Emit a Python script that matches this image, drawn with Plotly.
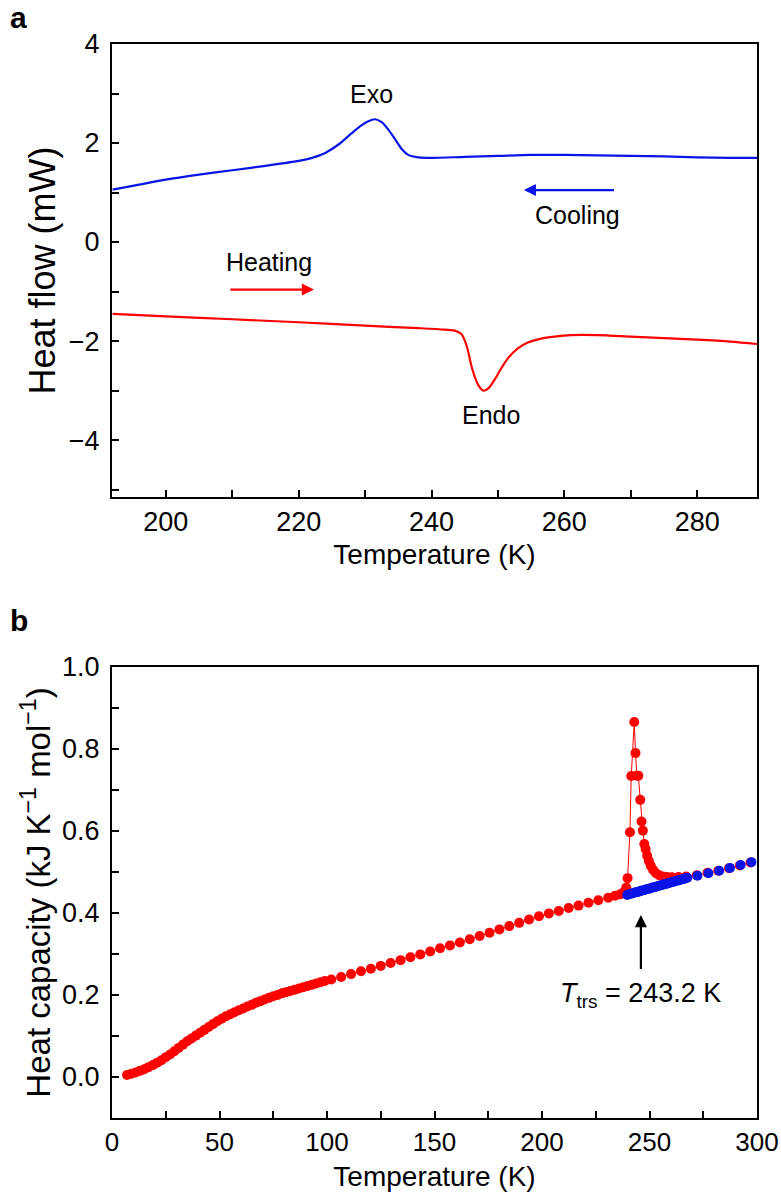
import plotly.graph_objects as go

# ---------------- Panel a: DSC heat flow ----------------
dsc_T_cool = [192, 196, 200, 205, 210, 215, 220, 222, 224, 226, 228, 229.5, 230.5, 231.5,
              232.5, 233.5, 234.5, 235.5, 236.5, 238, 240, 245, 250, 255, 260, 265, 270,
              275, 280, 285, 289]
dsc_cool = [1.06, 1.16, 1.26, 1.36, 1.45, 1.54, 1.64, 1.70, 1.80, 1.97, 2.20, 2.36, 2.44, 2.48,
            2.42, 2.27, 2.08, 1.88, 1.76, 1.71, 1.70, 1.72, 1.74, 1.76, 1.76, 1.75, 1.74,
            1.73, 1.71, 1.70, 1.70]

dsc_T_heat = [192, 200, 210, 220, 230, 238, 242, 243.5, 244.5, 245.3, 246.1, 247, 247.8, 248.6,
              249.5, 250.5, 251.5, 253, 254.5, 256.5, 258.5, 261, 265, 270, 275, 280, 285, 289]
dsc_heat = [-1.45, -1.50, -1.56, -1.62, -1.69, -1.74, -1.77, -1.79, -1.86, -2.10, -2.55, -2.88,
            -3.00, -2.95, -2.78, -2.55, -2.35, -2.15, -2.03, -1.95, -1.91, -1.88, -1.88, -1.91,
            -1.94, -1.97, -2.01, -2.06]

# ---------------- Panel b: heat capacity ----------------
cp_T_heat = [7, 9, 11, 13, 15, 17, 19, 21, 23, 25, 27, 29, 31, 33, 35, 37, 39, 41, 43, 45, 47, 49,
             51, 53, 55, 57, 59, 61, 63, 65, 67, 69, 71, 73, 75, 77, 79, 81, 83, 85, 87, 89, 91,
             93, 95, 97, 99,
             102, 106.6, 111.2, 115.8, 120.4, 125, 129.6, 134.2, 138.8, 143.4, 148, 152.6, 157.2,
             161.8, 166.4, 171, 175.6, 180.2, 184.8, 189.4, 194, 198.6, 203.2, 207.8, 212.4, 217,
             221.6, 226.2, 230.8, 234, 236.5, 238.2,
             239.2, 239.8, 240.9, 241.5, 242.9, 243.5, 244.1, 244.8, 245.7, 246.3, 246.9, 247.6,
             248.2, 248.9, 249.7, 250.6, 251.7, 253.0, 254.5, 256.2, 258.2, 260.5, 263.5, 267,
             272, 277, 282, 287, 292, 297]
cp_heat = [0.005, 0.008, 0.011, 0.015, 0.019, 0.024, 0.029, 0.035, 0.041, 0.048, 0.055, 0.063,
           0.071, 0.079, 0.087, 0.094, 0.101, 0.108, 0.115, 0.122, 0.129, 0.136, 0.142, 0.148,
           0.153, 0.158, 0.163, 0.167, 0.172, 0.176, 0.181, 0.185, 0.189, 0.193, 0.197, 0.200,
           0.204, 0.207, 0.210, 0.213, 0.216, 0.219, 0.222, 0.225, 0.228, 0.231, 0.234,
           0.238, 0.244, 0.251, 0.258, 0.264, 0.271, 0.278, 0.285, 0.292, 0.299, 0.306, 0.314,
           0.321, 0.328, 0.336, 0.344, 0.352, 0.360, 0.368, 0.376, 0.384, 0.392, 0.399, 0.405,
           0.412, 0.418, 0.425, 0.431, 0.437, 0.442, 0.446, 0.452,
           0.462, 0.485, 0.597, 0.734, 0.866, 0.790, 0.735, 0.735, 0.676, 0.623, 0.601, 0.568,
           0.556, 0.540, 0.527, 0.515, 0.505, 0.497, 0.492, 0.489, 0.488, 0.487, 0.488, 0.489,
           0.492, 0.498, 0.503, 0.509, 0.516, 0.523]

cp_T_cool = [239.6, 240.5, 241.4, 242.3, 243.2, 244.1, 245, 245.9, 246.8, 247.7, 248.6, 249.5,
             250.4, 251.3, 252.2, 253.1, 254, 254.9, 255.8, 256.7, 257.6, 258.5, 259.4, 260.3,
             261.2, 262.1, 263, 263.9, 264.8, 265.7, 266.6, 267.6, 272.3, 277.4, 282.4, 287.4,
             292.4, 297.4]
cp_cool = [0.444, 0.446, 0.447, 0.448, 0.450, 0.451, 0.452, 0.454, 0.455, 0.456, 0.458, 0.459,
           0.460, 0.462, 0.463, 0.464, 0.466, 0.467, 0.468, 0.470, 0.471, 0.472, 0.474, 0.475,
           0.476, 0.478, 0.479, 0.480, 0.482, 0.483, 0.484, 0.486, 0.491, 0.497, 0.503, 0.510,
           0.517, 0.524]

# tick definitions
a_xticks = [200, 210, 220, 230, 240, 250, 260, 270, 280]
a_xlabels = ["200", "", "220", "", "240", "", "260", "", "280"]
a_yticks = [-5, -4, -3, -2, -1, 0, 1, 2, 3, 4]
a_ylabels = ["", "\u22124", "", "\u22122", "", "0", "", "2", "", "4"]
b_xticks = [0, 25, 50, 75, 100, 125, 150, 175, 200, 225, 250, 275, 300]
b_xlabels = ["0", "", "50", "", "100", "", "150", "", "200", "", "250", "", "300"]
b_yticks = [0.0, 0.1, 0.2, 0.3, 0.4, 0.5, 0.6, 0.7, 0.8, 0.9, 1.0]
b_ylabels = ["0.0", "", "0.2", "", "0.4", "", "0.6", "", "0.8", "", "1.0"]

RED = "#ff0000"
BLUE = "#0a14e6"
SANS = "Liberation Sans, Arial, Helvetica, sans-serif"

fig = go.Figure()
fig.add_trace(go.Scatter(x=dsc_T_cool, y=dsc_cool, mode="lines", line=dict(color=BLUE, width=2.2, shape="spline", smoothing=0.8),
                         xaxis="x", yaxis="y", name="Cooling"))
fig.add_trace(go.Scatter(x=dsc_T_heat, y=dsc_heat, mode="lines", line=dict(color=RED, width=2.2, shape="spline", smoothing=0.8),
                         xaxis="x", yaxis="y", name="Heating"))
fig.add_trace(go.Scatter(x=cp_T_heat, y=cp_heat, mode="lines+markers",
                         line=dict(color=RED, width=1),
                         marker=dict(color=RED, size=10, line=dict(width=0)),
                         xaxis="x2", yaxis="y2", name="Heating Cp", cliponaxis=False))
fig.add_trace(go.Scatter(x=cp_T_cool, y=cp_cool, mode="markers",
                         marker=dict(color=BLUE, size=10, line=dict(width=0)),
                         xaxis="x2", yaxis="y2", name="Cooling Cp", cliponaxis=False))

XDOM = [112 / 781, 757 / 781]
axis_common = dict(showline=True, linewidth=2, linecolor="black", mirror=True, ticks="inside",
                   ticklen=7, tickwidth=2, tickcolor="black", showgrid=False, zeroline=False,
                   tickmode="array", automargin=False)

def f(size):
    return dict(family=SANS, size=size, color="black")

fig.update_layout(
    template="none",
    width=781, height=1202,
    margin=dict(l=0, r=0, t=0, b=0, pad=0),
    paper_bgcolor="white", plot_bgcolor="white",
    showlegend=False,
    xaxis=dict(domain=XDOM, anchor="y", range=[191.9, 289], tickvals=a_xticks, ticktext=a_xlabels,
               tickfont=f(27),
               title=dict(text="Temperature (K)", font=f(28), standoff=8),
               **axis_common),
    yaxis=dict(domain=[(1202 - 497) / 1202, (1202 - 44) / 1202], anchor="x", range=[-5.15, 4],
               tickvals=a_yticks, ticktext=a_ylabels, ticklabelstandoff=5,
               tickfont=f(27),
               title=dict(text="Heat flow (mW)", font=f(36), standoff=2),
               **axis_common),
    xaxis2=dict(domain=XDOM, anchor="y2", range=[0, 300], tickvals=b_xticks, ticktext=b_xlabels,
                tickfont=f(26),
                title=dict(text="Temperature (K)", font=f(28), standoff=10),
                **axis_common),
    yaxis2=dict(domain=[(1202 - 1118) / 1202, (1202 - 667) / 1202], anchor="x2", range=[-0.1, 1.0],
                tickvals=b_yticks, ticktext=b_ylabels, ticklabelstandoff=5,
                tickfont=f(27),
                title=dict(text="Heat capacity (kJ K<sup>\u22121</sup> mol<sup>\u22121</sup>)",
                           font=f(33), standoff=2),
                **axis_common),
)

ann = []
# panel labels
ann.append(dict(text="<b>a</b>", x=8 / 781, y=1 - 18 / 1202, xref="paper", yref="paper",
                xanchor="left", yanchor="middle", showarrow=False, font=f(30)))
ann.append(dict(text="<b>b</b>", x=8 / 781, y=1 - 620 / 1202, xref="paper", yref="paper",
                xanchor="left", yanchor="middle", showarrow=False, font=f(30)))
# panel a texts
for txt, xx, yy in [("Exo", 231, 3.0), ("Cooling", 262, 0.55), ("Heating", 215.5, -0.4), ("Endo", 249, -3.5)]:
    ann.append(dict(text=txt, x=xx, y=yy, xref="x", yref="y", showarrow=False, font=f(25)))
# arrows panel a
ann.append(dict(x=253.9, y=1.05, ax=267.7, ay=1.05, xref="x", yref="y", axref="x", ayref="y",
                text="", showarrow=True, arrowhead=2, arrowsize=1.1, arrowwidth=2.2, arrowcolor=BLUE))
ann.append(dict(x=222.3, y=-0.96, ax=209.5, ay=-0.96, xref="x", yref="y", axref="x", ayref="y",
                text="", showarrow=True, arrowhead=2, arrowsize=1.1, arrowwidth=2.2, arrowcolor=RED))
# panel b arrow and label
ann.append(dict(x=246, y=0.395, ax=246, ay=0.26, xref="x2", yref="y2", axref="x2", ayref="y2",
                text="", showarrow=True, arrowhead=2, arrowsize=1.1, arrowwidth=2.2, arrowcolor="black"))
ann.append(dict(text="<i>T</i><sub>trs</sub> = 243.2 K", x=246, y=0.2, xref="x2", yref="y2",
                showarrow=False, font=f(27)))
fig.update_layout(annotations=ann)

fig.write_html("out.html", config={"displayModeBar": False},
               post_script="document.body.style.margin='0';document.body.style.padding='0';")
